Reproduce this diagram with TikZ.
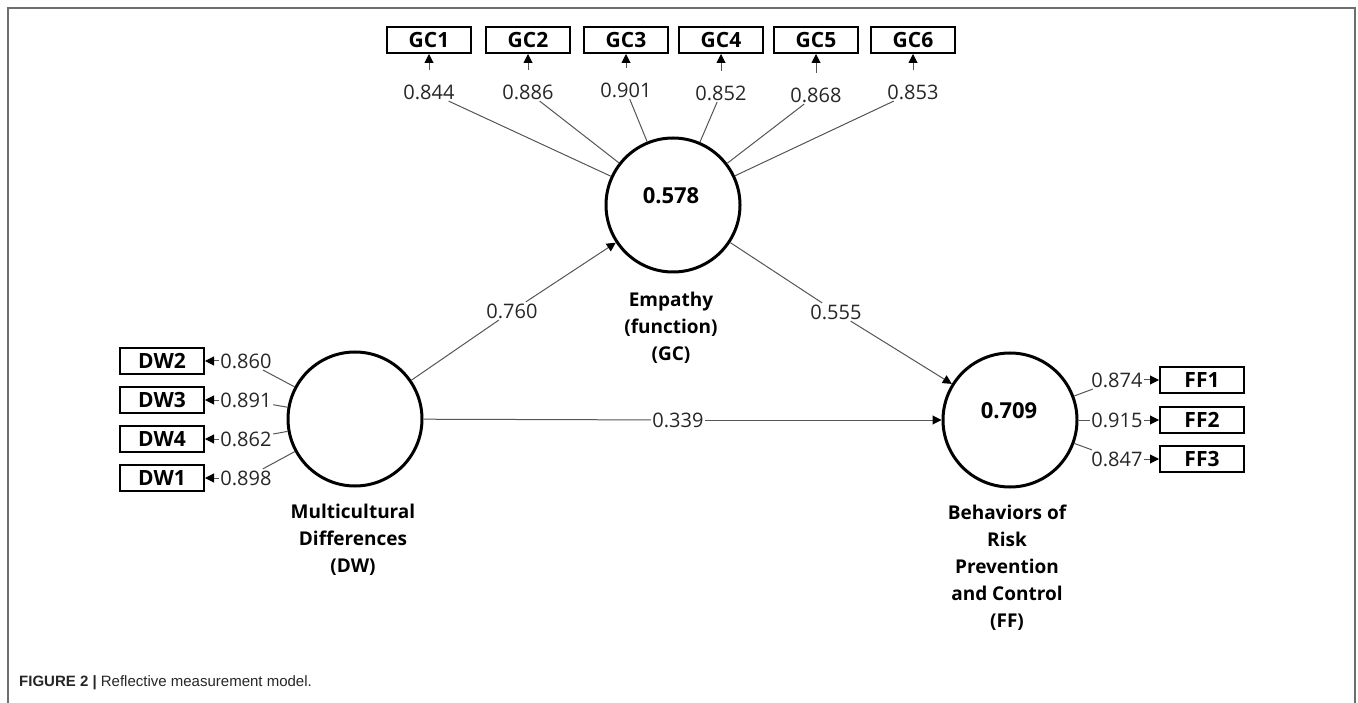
\documentclass[tikz,border=0pt]{standalone}
\usepackage{fontspec}
\setmainfont{Open Sans}
\newfontfamily\capfont{Liberation Sans}
\usetikzlibrary{arrows.meta}
\definecolor{numc}{HTML}{262626}
\definecolor{linec}{HTML}{555555}
\definecolor{framec}{HTML}{6E6E6E}
\begin{document}
\begin{tikzpicture}[x=1pt,y=-1pt,
  lat/.style={circle, draw=black, line width=3pt, minimum size=134pt, inner sep=0pt},
  ind/.style={draw=black, line width=2pt, minimum width=84pt, minimum height=26pt, inner sep=0pt, font=\fontsize{21}{22}\selectfont\bfseries},
  num/.style={font=\fontsize{20}{22}\selectfont, text=numc, inner sep=1.5pt},
  rsq/.style={font=\fontsize{22}{24}\selectfont\bfseries, text=black, inner sep=0pt},
  latname/.style={font=\fontsize{19}{27}\selectfont\bfseries, align=center, inner sep=0pt},
  lnk/.style={draw=linec, line width=1pt},
  arr/.style={lnk, -{Triangle[length=9pt,width=9pt,black]}}
]
\useasboundingbox (0,0) rectangle (1358,703);
% frame
\draw[framec, line width=2pt] (8,703) -- (8,8) -- (1355,8) -- (1355,703);

% latent variables
\node[lat] (GC) at (673,205) {};
\node[lat] (DW) at (355,419) {};
\node[lat] (FF) at (1010,420) {};
\node[rsq] (GCv) at (671,196) {0.578};
\node[rsq] (FFv) at (1009,411) {0.709};

\node[latname] (GCn) at (671,328) {Empathy\\(function)\\(GC)};
\node[latname] (DWn) at (353,540) {Multicultural\\Differences\\(DW)};
\node[latname] (FFn) at (1007,568) {Behaviors of\\Risk\\Prevention\\and Control\\(FF)};

% GC indicators
\foreach \i/\x/\ly/\v in {1/429/92/0.844, 2/528/92/0.886, 3/626/90/0.901, 4/721/93/0.852, 5/816/95/0.868, 6/913/92/0.853}{
  \node[ind] (GC\i) at (\x,40) {GC\i};
  \node[num] (gl\i) at (\x,\ly) {\v};
  \draw[lnk] (GC) -- (gl\i);
  \draw[arr] ([yshift=13pt]gl\i.north) -- (GC\i.south);
}

% DW indicators
\foreach \n/\y/\v in {2/361/0.860, 3/400/0.891, 4/439/0.862, 1/478/0.898}{
  \node[ind] (DW\n) at (162,\y) {DW\n};
  \node[num] (dl\n) at (246,\y) {\v};
  \draw[lnk] (DW) -- (dl\n);
  \draw[arr] (dl\n.west) -- (DW\n.east);
}

% FF indicators
\foreach \n/\y/\v in {1/380/0.874, 2/420/0.915, 3/459/0.847}{
  \node[ind] (FF\n) at (1202,\y) {FF\n};
  \node[num] (fl\n) at (1117,\y) {\v};
  \draw[lnk] (FF) -- (fl\n);
  \draw[arr] (fl\n.east) -- (FF\n.west);
}

% structural paths
\node[num] (p1) at (512,311) {0.760};
\node[num] (p2) at (836,312) {0.555};
\node[num] (p3) at (678,420) {0.339};
\draw[lnk] (DW) -- (p1);
\draw[arr] (p1) -- (GC);
\draw[lnk] (GC) -- (p2);
\draw[arr] (p2) -- (FF);
\draw[lnk] (DW) -- (p3);
\draw[arr] (p3) -- (FF);

% caption
\node[anchor=west, inner sep=0pt, font=\capfont\fontsize{15}{17}\selectfont, text=black!85] (cap) at (19,683)
  {\textbf{FIGURE 2 |} Reflective measurement model.};
\end{tikzpicture}
\end{document}
